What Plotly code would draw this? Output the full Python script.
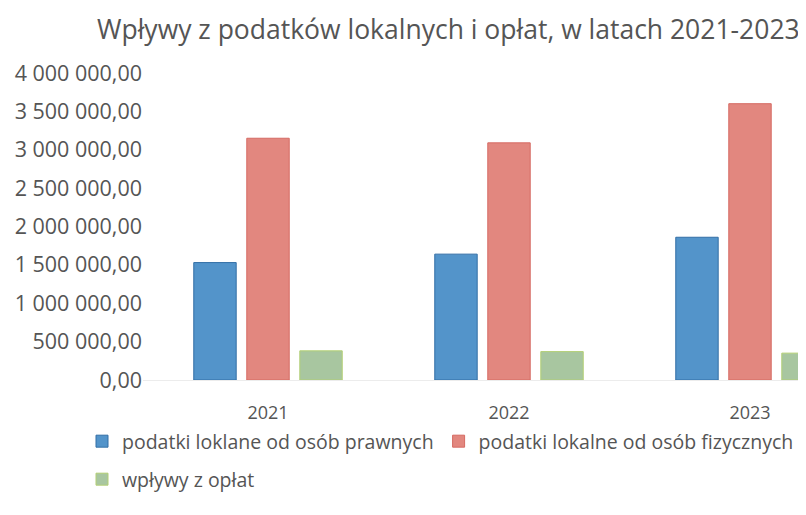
import plotly.graph_objects as go

years = ["2021", "2022", "2023"]
prawne = [1530000, 1640000, 1860000]
fizyczne = [3150000, 3090000, 3600000]
oplaty = [380000, 370000, 350000]

series_names = [
    "podatki loklane od osób prawnych",
    "podatki lokalne od osób fizycznych",
    "wpływy z opłat",
]
fill_colors = ["#5394ca", "#e2877f", "#a8c6a0"]
line_colors = ["#336fa6", "#d66a63", "#b3cf74"]
legend_ids = ["legend", "legend", "legend2"]

tick_vals = [0, 500000, 1000000, 1500000, 2000000, 2500000, 3000000, 3500000, 4000000]
tick_text = ["0,00", "500 000,00", "1 000 000,00", "1 500 000,00", "2 000 000,00",
             "2 500 000,00", "3 000 000,00", "3 500 000,00", "4 000 000,00"]

FONT = "'Open Sans', Lato, sans-serif"
TXT = "#555555"
OFF = 8  # page body margin offset

W, H = 806, 515
PL, PR = 143 - OFF, W - OFF          # plot left/right in figure px
PT, PB = 73 - OFF, 380 - OFF         # plot top/bottom in figure px
PW, PH = PR - PL, PB - PT
CAT_PX = 241
X0 = -(268 - 143) / CAT_PX
X1 = X0 + (806 - 143) / CAT_PX

fig = go.Figure()
for name, vals, fc, lc, lg in zip(series_names, [prawne, fizyczne, oplaty],
                                  fill_colors, line_colors, legend_ids):
    fig.add_trace(go.Bar(x=years, y=vals, name=name, marker_color=fc,
                         marker_line_color=lc, marker_line_width=1, legend=lg))

leg_x = (82 - OFF - PL) / PW
fig.update_layout(
    width=W, height=H,
    margin=dict(l=PL, r=W - PR, t=PT, b=H - PB, autoexpand=False),
    paper_bgcolor="white", plot_bgcolor="white",
    barmode="group", bargap=0.34, bargroupgap=0.2,
    font=dict(family=FONT, color=TXT, size=18),
    title=dict(text="Wpływy z podatków lokalnych i opłat, w latach 2021-2023",
               xref="container", yref="container", x=(97 - OFF)/W, xanchor="left",
               y=1-(30 - OFF)/H, yanchor="middle",
               font=dict(size=26.5, family=FONT, color=TXT)),
    showlegend=True,
    legend=dict(orientation="h", xref="paper", yref="paper",
                x=leg_x, xanchor="left", y=-(422 - OFF - PB)/PH, yanchor="top",
                font=dict(size=19.5, family=FONT, color=TXT), itemwidth=30),
    legend2=dict(orientation="h", xref="paper", yref="paper",
                 x=leg_x, xanchor="left", y=-(460 - OFF - PB)/PH, yanchor="top",
                 font=dict(size=19.5, family=FONT, color=TXT), itemwidth=30),
)
fig.update_xaxes(range=[X0, X1], showline=False, showgrid=False, automargin=False,
                 ticks="", ticklabelstandoff=20, tickfont=dict(size=18))
fig.update_yaxes(range=[0, 4000000], tickvals=tick_vals, ticktext=tick_text,
                 showgrid=False, zeroline=True, zerolinecolor="#ececec",
                 zerolinewidth=1, showline=False, ticks="", automargin=False,
                 tickfont=dict(size=21.5))

fig.write_html("out.html")
